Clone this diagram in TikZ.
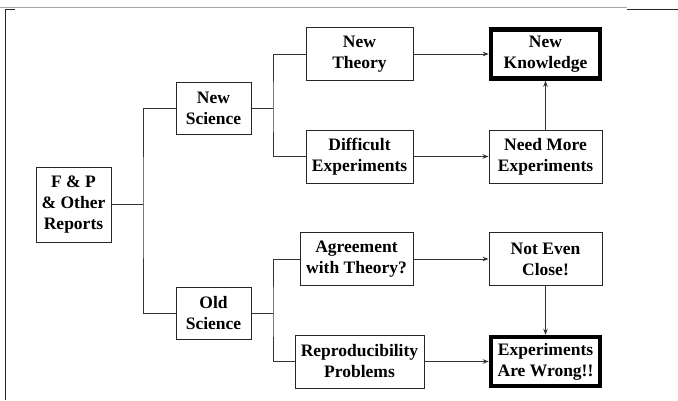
\documentclass[tikz,border=0pt]{standalone}
\usepackage{fontspec}
\setmainfont{Liberation Serif}
\usetikzlibrary{arrows.meta}

\begin{document}
\begin{tikzpicture}[x=1pt,y=-1pt,line width=0.9pt,color=black!80,
   box/.style={draw=black!85,fill=white,text=black,align=center,inner sep=0pt,
     font=\fontsize{17.5}{21}\selectfont\bfseries,minimum height=53pt},
   goal/.style={box,draw=black,line width=4.5pt,minimum height=49pt},
   arr/.style={-{Stealth[length=6pt,width=4.5pt]}}]
   \useasboundingbox (0,0) rectangle (678,400);
   \draw[color=gray!70] (0,7) -- (627,7);
   \draw[color=black!85] (627,9) -- (678,9);
   \draw[color=black!85] (15,9) -- (5,9) -- (5,400);
   \node[box, minimum width=75pt, minimum height=75pt] (fp) at (73.5,204.5) {F \& P\\\& Other\\Reports};
   \node[box, minimum width=75pt, minimum height=52pt] (newsci) at (213.5,108) {New\\Science};
   \node[box, minimum width=75pt, minimum height=52pt] (oldsci) at (213.5,313) {Old\\Science};
   \node[box, minimum width=107pt] (theory) at (359.5,54) {New\\Theory};
   \node[box, minimum width=107pt] (diffexp) at (359.5,156.5) {Difficult\\Experiments};
   \node[box, minimum width=113pt] (agree) at (356.5,259) {Agreement\\with Theory?};
   \node[box, minimum width=129pt] (repro) at (359.5,361.5) {Reproducibility\\Problems};
   \node[goal, minimum width=109pt] (knowl) at (545.5,54) {New\\Knowledge};
   \node[box, minimum width=113pt] (needmore) at (545.5,156.5) {Need More\\Experiments};
   \node[box, minimum width=113pt] (notclose) at (545.5,259) {Not Even\\Close!};
   \node[goal, minimum width=109pt] (wrong) at (545.5,361.5) {Experiments\\Are Wrong!!};
   \coordinate (trunk) at (143,204.5);
   \coordinate (nsplit) at (273,108);
   \coordinate (osplit) at (273,313);
   \draw (fp.east) -- (trunk);
   \draw (newsci.west) -| (trunk) |- (oldsci.west);
   \draw (newsci.east) -- (nsplit);
   \draw (theory.west) -| (nsplit) |- (diffexp.west);
   \draw (oldsci.east) -- (osplit);
   \draw (agree.west) -| (osplit) |- (repro.west);
   \draw[arr] (theory) -- (knowl);
   \draw[arr] (diffexp) -- (needmore);
   \draw[arr] (needmore) -- (knowl);
   \draw[arr] (agree) -- (notclose);
   \draw[arr] (notclose) -- (wrong);
   \draw[arr] (repro) -- (wrong);
\end{tikzpicture}
\end{document}
